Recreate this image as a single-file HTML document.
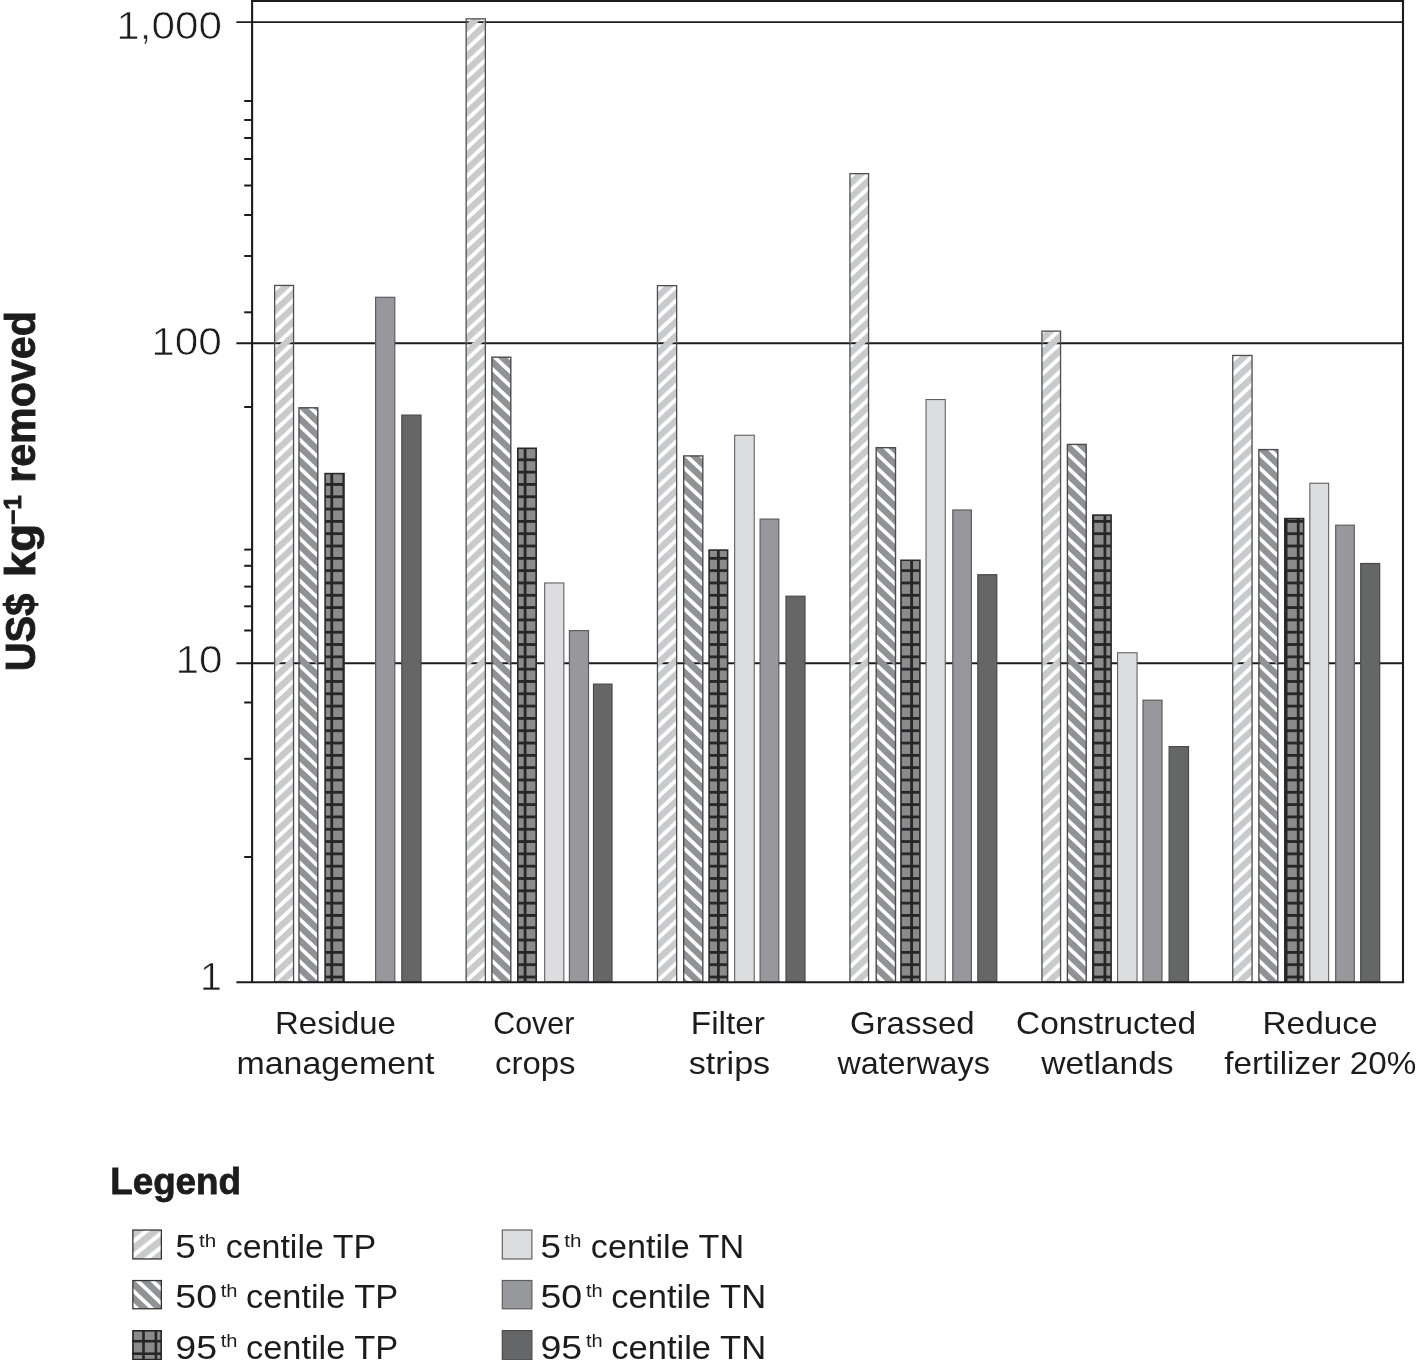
<!DOCTYPE html>
<html lang="en"><head><meta charset="utf-8"><title>Cost of nutrient removal</title>
<style>html,body{margin:0;padding:0;background:#fff}svg{display:block}text{font-family:"Liberation Sans",Arial,sans-serif;fill:#1c1c1c}</style></head><body>
<svg width="1417" height="1360" viewBox="0 0 1417 1360">
<rect width="100%" height="100%" fill="#fff"/>
<defs>
<pattern id="h1" patternUnits="userSpaceOnUse" width="20" height="10.319" patternTransform="translate(0.8,1.6) rotate(-43.0)"><rect x="0" y="0" width="20" height="6.436" fill="#c9cacc"/></pattern>
<pattern id="h2" patternUnits="userSpaceOnUse" width="20" height="10.228" patternTransform="translate(0.8,-4.45) rotate(43.5)"><rect x="0" y="0" width="20" height="6.528" fill="#909295"/></pattern>
<pattern id="gr" patternUnits="userSpaceOnUse" width="12.08" height="12.314" patternTransform="translate(330.400,975.600)"><rect width="12.08" height="12.314" fill="#8b8b8d"/><rect width="2.8" height="12.314" fill="#262626"/><rect width="12.08" height="2.8" fill="#262626"/></pattern>
<pattern id="sh1" patternUnits="userSpaceOnUse" width="20" height="10.957" patternTransform="translate(0.7,0) rotate(-38.5)"><rect x="0" y="0" width="20" height="6.809" fill="#c9cacc"/></pattern><pattern id="sh2" patternUnits="userSpaceOnUse" width="20" height="10.228" patternTransform="translate(0.7,0) rotate(43.5)"><rect x="0" y="0" width="20" height="6.528" fill="#909295"/></pattern></defs>
<line x1="236.4" y1="22.1" x2="1403" y2="22.1" stroke="#1c1c1c" stroke-width="1.9"/>
<line x1="236.4" y1="343.2" x2="1403" y2="343.2" stroke="#1c1c1c" stroke-width="1.9"/>
<line x1="236.4" y1="663.2" x2="1403" y2="663.2" stroke="#1c1c1c" stroke-width="1.9"/>
<g transform="translate(274.00,982.0)"><rect x="0.65" y="-696.55" width="18.90" height="696.55" fill="url(#h1)" stroke="#4e4e50" stroke-width="1.3"/></g>
<g transform="translate(298.30,982.0)"><rect x="0.70" y="-574.20" width="18.80" height="574.20" fill="url(#h2)" stroke="#4c4c4e" stroke-width="1.4"/></g>
<rect x="325.10" y="473.60" width="18.90" height="508.40" fill="url(#gr)" stroke="#2a2a2a" stroke-width="1.6"/>
<rect x="375.60" y="297.30" width="19.20" height="684.70" fill="#97989c" stroke="#5e5e60" stroke-width="1.2"/>
<rect x="401.80" y="415.10" width="19.20" height="566.90" fill="#646668" stroke="#4a4a4c" stroke-width="1.2"/>
<g transform="translate(465.50,982.0)"><rect x="0.65" y="-963.15" width="19.20" height="963.15" fill="url(#h1)" stroke="#4e4e50" stroke-width="1.3"/></g>
<g transform="translate(491.20,982.0)"><rect x="0.70" y="-624.80" width="18.90" height="624.80" fill="url(#h2)" stroke="#4c4c4e" stroke-width="1.4"/></g>
<rect x="517.80" y="448.30" width="18.40" height="533.70" fill="url(#gr)" stroke="#2a2a2a" stroke-width="1.6"/>
<rect x="544.65" y="582.95" width="19.20" height="399.05" fill="#dcdddf" stroke="#626264" stroke-width="1.1"/>
<rect x="569.40" y="630.60" width="19.10" height="351.40" fill="#97989c" stroke="#5e5e60" stroke-width="1.2"/>
<rect x="593.50" y="684.10" width="18.50" height="297.90" fill="#646668" stroke="#4a4a4c" stroke-width="1.2"/>
<g transform="translate(656.80,982.0)"><rect x="0.65" y="-696.35" width="19.20" height="696.35" fill="url(#h1)" stroke="#4e4e50" stroke-width="1.3"/></g>
<g transform="translate(683.00,982.0)"><rect x="0.70" y="-526.10" width="19.10" height="526.10" fill="url(#h2)" stroke="#4c4c4e" stroke-width="1.4"/></g>
<rect x="709.10" y="550.10" width="18.50" height="431.90" fill="url(#gr)" stroke="#2a2a2a" stroke-width="1.6"/>
<rect x="734.65" y="435.25" width="19.60" height="546.75" fill="#dcdddf" stroke="#626264" stroke-width="1.1"/>
<rect x="760.10" y="519.10" width="18.70" height="462.90" fill="#97989c" stroke="#5e5e60" stroke-width="1.2"/>
<rect x="786.00" y="596.20" width="19.00" height="385.80" fill="#646668" stroke="#4a4a4c" stroke-width="1.2"/>
<g transform="translate(849.30,982.0)"><rect x="0.65" y="-808.35" width="18.60" height="808.35" fill="url(#h1)" stroke="#4e4e50" stroke-width="1.3"/></g>
<g transform="translate(875.50,982.0)"><rect x="0.70" y="-534.30" width="19.30" height="534.30" fill="url(#h2)" stroke="#4c4c4e" stroke-width="1.4"/></g>
<rect x="901.00" y="560.30" width="18.90" height="421.70" fill="url(#gr)" stroke="#2a2a2a" stroke-width="1.6"/>
<rect x="926.05" y="399.55" width="19.20" height="582.45" fill="#dcdddf" stroke="#626264" stroke-width="1.1"/>
<rect x="952.80" y="510.00" width="18.60" height="472.00" fill="#97989c" stroke="#5e5e60" stroke-width="1.2"/>
<rect x="977.80" y="574.70" width="19.00" height="407.30" fill="#646668" stroke="#4a4a4c" stroke-width="1.2"/>
<g transform="translate(1041.30,982.0)"><rect x="0.65" y="-650.85" width="18.60" height="650.85" fill="url(#h1)" stroke="#4e4e50" stroke-width="1.3"/></g>
<g transform="translate(1066.70,982.0)"><rect x="0.70" y="-537.60" width="18.80" height="537.60" fill="url(#h2)" stroke="#4c4c4e" stroke-width="1.4"/></g>
<rect x="1092.80" y="515.10" width="18.30" height="466.90" fill="url(#gr)" stroke="#2a2a2a" stroke-width="1.6"/>
<rect x="1117.55" y="652.75" width="19.50" height="329.25" fill="#dcdddf" stroke="#626264" stroke-width="1.1"/>
<rect x="1143.00" y="700.20" width="19.00" height="281.80" fill="#97989c" stroke="#5e5e60" stroke-width="1.2"/>
<rect x="1169.10" y="746.60" width="19.40" height="235.40" fill="#646668" stroke="#4a4a4c" stroke-width="1.2"/>
<g transform="translate(1232.10,982.0)"><rect x="0.65" y="-626.55" width="19.30" height="626.55" fill="url(#h1)" stroke="#4e4e50" stroke-width="1.3"/></g>
<g transform="translate(1258.20,982.0)"><rect x="0.70" y="-532.40" width="18.90" height="532.40" fill="url(#h2)" stroke="#4c4c4e" stroke-width="1.4"/></g>
<rect x="1284.80" y="518.60" width="18.80" height="463.40" fill="url(#gr)" stroke="#2a2a2a" stroke-width="1.6"/>
<rect x="1309.85" y="483.25" width="18.80" height="498.75" fill="#dcdddf" stroke="#626264" stroke-width="1.1"/>
<rect x="1335.70" y="525.20" width="18.60" height="456.80" fill="#97989c" stroke="#5e5e60" stroke-width="1.2"/>
<rect x="1360.70" y="563.50" width="19.00" height="418.50" fill="#646668" stroke="#4a4a4c" stroke-width="1.2"/>
<line x1="251.1" y1="1.05" x2="1404.05" y2="1.05" stroke="#1c1c1c" stroke-width="2.1"/>
<line x1="252.1" y1="0" x2="252.1" y2="982.0" stroke="#1c1c1c" stroke-width="2.1"/>
<line x1="1403.0" y1="0" x2="1403.0" y2="983.1" stroke="#1c1c1c" stroke-width="2.1"/>
<line x1="236.4" y1="982.2" x2="1404.05" y2="982.2" stroke="#1c1c1c" stroke-width="1.9"/>
<line x1="244.2" y1="101" x2="252" y2="101" stroke="#1c1c1c" stroke-width="2.0"/>
<line x1="244.2" y1="120" x2="252" y2="120" stroke="#1c1c1c" stroke-width="2.0"/>
<line x1="244.2" y1="138" x2="252" y2="138" stroke="#1c1c1c" stroke-width="2.0"/>
<line x1="244.2" y1="159" x2="252" y2="159" stroke="#1c1c1c" stroke-width="2.0"/>
<line x1="244.2" y1="185.5" x2="252" y2="185.5" stroke="#1c1c1c" stroke-width="2.0"/>
<line x1="244.2" y1="215" x2="252" y2="215" stroke="#1c1c1c" stroke-width="2.0"/>
<line x1="244.2" y1="256" x2="252" y2="256" stroke="#1c1c1c" stroke-width="2.0"/>
<line x1="244.2" y1="312.3" x2="252" y2="312.3" stroke="#1c1c1c" stroke-width="2.0"/>
<line x1="244.2" y1="407" x2="252" y2="407" stroke="#1c1c1c" stroke-width="2.0"/>
<line x1="244.2" y1="549.6" x2="252" y2="549.6" stroke="#1c1c1c" stroke-width="2.0"/>
<line x1="244.2" y1="565.8" x2="252" y2="565.8" stroke="#1c1c1c" stroke-width="2.0"/>
<line x1="244.2" y1="586.6" x2="252" y2="586.6" stroke="#1c1c1c" stroke-width="2.0"/>
<line x1="244.2" y1="606.3" x2="252" y2="606.3" stroke="#1c1c1c" stroke-width="2.0"/>
<line x1="244.2" y1="630.5" x2="252" y2="630.5" stroke="#1c1c1c" stroke-width="2.0"/>
<line x1="244.2" y1="702.5" x2="252" y2="702.5" stroke="#1c1c1c" stroke-width="2.0"/>
<line x1="244.2" y1="758.8" x2="252" y2="758.8" stroke="#1c1c1c" stroke-width="2.0"/>
<line x1="244.2" y1="857" x2="252" y2="857" stroke="#1c1c1c" stroke-width="2.0"/>
<text x="116.20" y="38.6" font-size="38.5" font-weight="normal" textLength="105.89" lengthAdjust="spacingAndGlyphs" stroke="#fff" stroke-width="0.7" paint-order="fill stroke">1,000</text>
<text x="151.19" y="355.4" font-size="38.5" font-weight="normal" textLength="70.78" lengthAdjust="spacingAndGlyphs" stroke="#fff" stroke-width="0.7" paint-order="fill stroke">100</text>
<text x="175.50" y="673.3" font-size="38.5" font-weight="normal" textLength="47.11" lengthAdjust="spacingAndGlyphs" stroke="#fff" stroke-width="0.7" paint-order="fill stroke">10</text>
<text x="200.13" y="990.0" font-size="38.5" font-weight="normal" textLength="21.93" lengthAdjust="spacingAndGlyphs" stroke="#fff" stroke-width="0.7" paint-order="fill stroke">1</text>
<text x="275.06" y="1033.5" font-size="31.5" font-weight="normal" textLength="120.78" lengthAdjust="spacingAndGlyphs">Residue</text>
<text x="236.45" y="1073.8" font-size="31.5" font-weight="normal" textLength="197.92" lengthAdjust="spacingAndGlyphs">management</text>
<text x="493.27" y="1033.5" font-size="31.5" font-weight="normal" textLength="81.06" lengthAdjust="spacingAndGlyphs">Cover</text>
<text x="495.06" y="1073.8" font-size="31.5" font-weight="normal" textLength="80.32" lengthAdjust="spacingAndGlyphs">crops</text>
<text x="690.83" y="1033.5" font-size="31.5" font-weight="normal" textLength="74.07" lengthAdjust="spacingAndGlyphs">Filter</text>
<text x="688.72" y="1073.8" font-size="31.5" font-weight="normal" textLength="81.45" lengthAdjust="spacingAndGlyphs">strips</text>
<text x="850.01" y="1033.5" font-size="31.5" font-weight="normal" textLength="124.55" lengthAdjust="spacingAndGlyphs">Grassed</text>
<text x="837.40" y="1073.8" font-size="31.5" font-weight="normal" textLength="152.42" lengthAdjust="spacingAndGlyphs">waterways</text>
<text x="1016.08" y="1033.5" font-size="31.5" font-weight="normal" textLength="180.08" lengthAdjust="spacingAndGlyphs">Constructed</text>
<text x="1041.20" y="1073.8" font-size="31.5" font-weight="normal" textLength="132.41" lengthAdjust="spacingAndGlyphs">wetlands</text>
<text x="1262.52" y="1033.5" font-size="31.5" font-weight="normal" textLength="114.95" lengthAdjust="spacingAndGlyphs">Reduce</text>
<text x="1224.20" y="1073.8" font-size="31.5" font-weight="normal" textLength="192.24" lengthAdjust="spacingAndGlyphs">fertilizer 20%</text>
<text x="110.24" y="1193.6" font-size="37.5" font-weight="bold" textLength="130.76" lengthAdjust="spacingAndGlyphs" stroke="#1c1c1c" stroke-width="0.8">Legend</text>
<text x="175.33" y="1258.3" font-size="32.5" font-weight="normal" textLength="20.49" lengthAdjust="spacingAndGlyphs">5</text>
<text x="199.10" y="1246.6" font-size="17.5" font-weight="normal" textLength="17.19" lengthAdjust="spacingAndGlyphs">th</text>
<text x="225.65" y="1258.3" font-size="32.5" font-weight="normal" textLength="150.45" lengthAdjust="spacingAndGlyphs">centile TP</text>
<text x="175.29" y="1308.4" font-size="32.5" font-weight="normal" textLength="41.74" lengthAdjust="spacingAndGlyphs">50</text>
<text x="220.80" y="1296.7" font-size="17.5" font-weight="normal" textLength="16.74" lengthAdjust="spacingAndGlyphs">th</text>
<text x="246.04" y="1308.4" font-size="32.5" font-weight="normal" textLength="152.09" lengthAdjust="spacingAndGlyphs">centile TP</text>
<text x="175.29" y="1358.6" font-size="32.5" font-weight="normal" textLength="41.74" lengthAdjust="spacingAndGlyphs">95</text>
<text x="220.80" y="1346.8999999999999" font-size="17.5" font-weight="normal" textLength="16.74" lengthAdjust="spacingAndGlyphs">th</text>
<text x="246.04" y="1358.6" font-size="32.5" font-weight="normal" textLength="152.09" lengthAdjust="spacingAndGlyphs">centile TP</text>
<text x="540.53" y="1258.3" font-size="32.5" font-weight="normal" textLength="20.49" lengthAdjust="spacingAndGlyphs">5</text>
<text x="564.30" y="1246.6" font-size="17.5" font-weight="normal" textLength="17.19" lengthAdjust="spacingAndGlyphs">th</text>
<text x="590.85" y="1258.3" font-size="32.5" font-weight="normal" textLength="153.31" lengthAdjust="spacingAndGlyphs">centile TN</text>
<text x="540.49" y="1308.4" font-size="32.5" font-weight="normal" textLength="41.74" lengthAdjust="spacingAndGlyphs">50</text>
<text x="586.00" y="1296.7" font-size="17.5" font-weight="normal" textLength="16.74" lengthAdjust="spacingAndGlyphs">th</text>
<text x="611.24" y="1308.4" font-size="32.5" font-weight="normal" textLength="154.85" lengthAdjust="spacingAndGlyphs">centile TN</text>
<text x="540.49" y="1358.6" font-size="32.5" font-weight="normal" textLength="41.74" lengthAdjust="spacingAndGlyphs">95</text>
<text x="586.00" y="1346.8999999999999" font-size="17.5" font-weight="normal" textLength="16.74" lengthAdjust="spacingAndGlyphs">th</text>
<text x="611.24" y="1358.6" font-size="32.5" font-weight="normal" textLength="154.85" lengthAdjust="spacingAndGlyphs">centile TN</text>
<g transform="translate(35.3,669.7) rotate(-90)">
<text x="-1.60" y="0" font-size="42" font-weight="bold" stroke="#1c1c1c" stroke-width="0.9" textLength="77.77" lengthAdjust="spacingAndGlyphs">US$</text>
<text x="92.54" y="0" font-size="42" font-weight="bold" stroke="#1c1c1c" stroke-width="0.9" textLength="53.23" lengthAdjust="spacingAndGlyphs">kg</text>
<text x="144.92" y="-14.5" font-size="24" font-weight="bold" stroke="#1c1c1c" stroke-width="0.9" textLength="29.48" lengthAdjust="spacingAndGlyphs">−1</text>
<text x="186.86" y="0" font-size="42" font-weight="bold" stroke="#1c1c1c" stroke-width="0.9" textLength="171.66" lengthAdjust="spacingAndGlyphs">removed</text>
</g>
<g transform="translate(132.2,1258.4)"><rect x="0.65" y="-28.35" width="28.50" height="28.90" fill="url(#sh1)" stroke="#333" stroke-width="1.3"/></g>
<rect x="502.3" y="1230.0" width="29.600000000000012" height="28.99999999999982" fill="#dcdddf" stroke="#626264" stroke-width="1.2"/>
<g transform="translate(132.2,1293.0)"><rect x="0.65" y="-12.45" width="28.50" height="28.20" fill="url(#sh2)" stroke="#333" stroke-width="1.3"/></g>
<rect x="502.3" y="1280.5" width="29.600000000000012" height="28.3" fill="#97989c" stroke="#5e5e60" stroke-width="1.2"/>
<rect x="132.2" y="1330.0" width="29.80000000000001" height="30.40000000000009" fill="#8b8b8d"/>
<rect x="142.2" y="1330.0" width="2.6" height="30.40000000000009" fill="#262626"/>
<rect x="154.6" y="1330.0" width="2.6" height="30.40000000000009" fill="#262626"/>
<rect x="132.2" y="1339.9" width="29.80000000000001" height="2.6" fill="#262626"/>
<rect x="132.2" y="1352.4" width="29.80000000000001" height="2.6" fill="#262626"/>
<rect x="133.0" y="1330.8" width="28.20000000000001" height="28.80000000000009" fill="none" stroke="#262626" stroke-width="1.6"/>
<rect x="502.3" y="1330.6" width="29.600000000000012" height="29.20000000000009" fill="#646668" stroke="#4a4a4c" stroke-width="1.2"/>
</svg></body></html>
